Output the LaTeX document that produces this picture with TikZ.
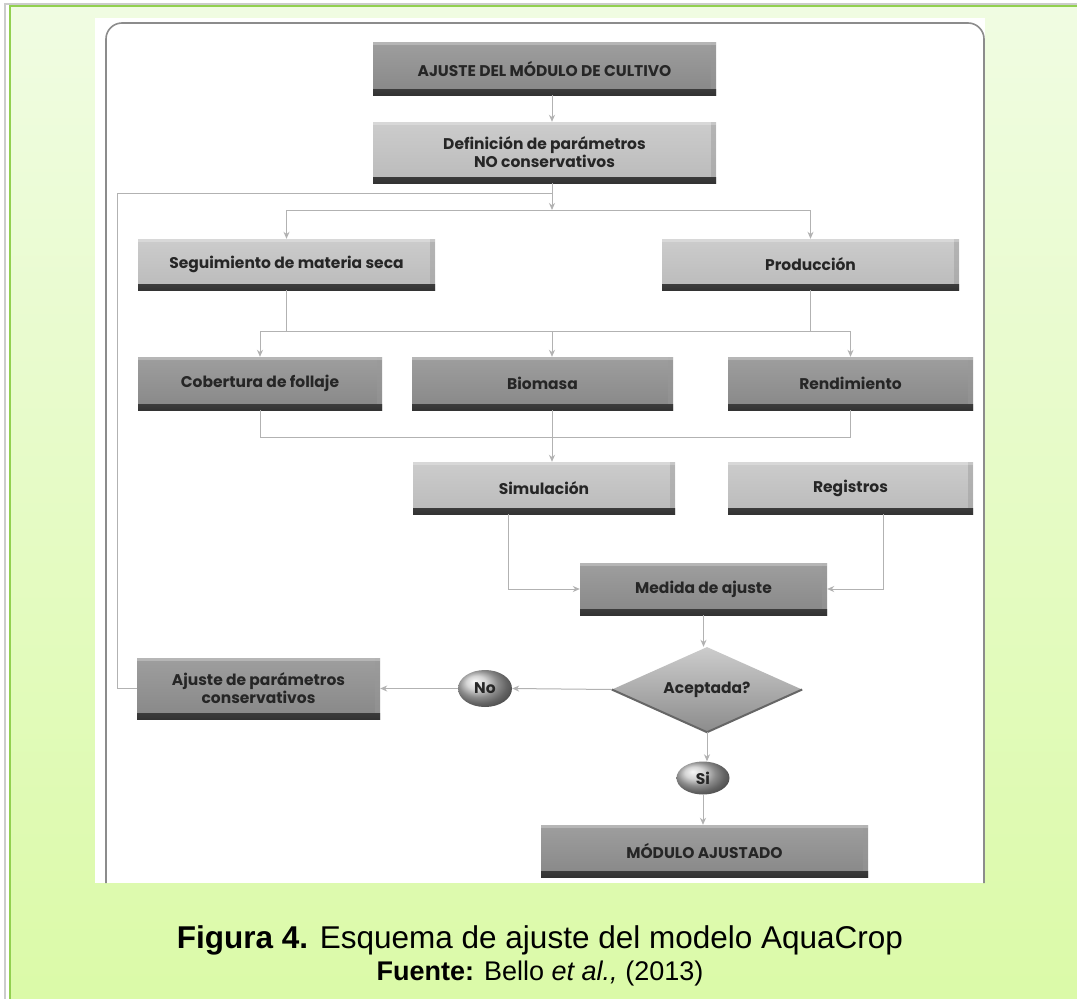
\documentclass[tikz,border=0pt]{standalone}
\usepackage{fontspec}
\usepackage{tikz}
\usetikzlibrary{arrows.meta,shapes.geometric}
\newfontfamily\flujo{Poppins}
\newfontfamily\arial{Liberation Sans}

\definecolor{verdeborde}{RGB}{146,208,80}
\definecolor{verdeA}{RGB}{240,252,226}
\definecolor{verdeB}{RGB}{219,250,168}
\definecolor{conector}{RGB}{178,178,178}

\tikzset{
  caja/.style={minimum height=52pt, inner sep=2pt, align=center,
    font=\flujo\bfseries\fontsize{15.5}{18}\selectfont, text=black!85,
    path picture={
      \shade[top color=black!50, bottom color=black!80]
        ([yshift=6pt]path picture bounding box.south west) rectangle (path picture bounding box.south east);
      \fill[black!40, opacity=.45] ([xshift=-5pt]path picture bounding box.north east)
        rectangle ([yshift=6pt]path picture bounding box.south east);
      \fill[white, opacity=.25] (path picture bounding box.north west)
        rectangle ([yshift=-3pt]path picture bounding box.north east);
    }},
  oscura/.style={caja, top color=black!38, bottom color=black!47},
  clara/.style={caja, top color=black!20, bottom color=black!27},
  decision/.style={diamond, aspect=2.2, minimum width=190pt, minimum height=85pt,
    inner sep=0pt, top color=black!20, bottom color=black!45,
    font=\flujo\bfseries\fontsize{15.5}{18}\selectfont, text=black!85},
  resp/.style={ellipse, minimum width=54pt, minimum height=37pt, inner sep=0pt,
    ball color=black!22, font=\flujo\bfseries\fontsize{15.5}{18}\selectfont, text=black!85},
  linea/.style={draw=conector, line width=1pt},
  flecha/.style={linea, -{Stealth[length=7pt,width=6pt]}}
}

\begin{document}
\begin{tikzpicture}[x=1pt, y=-1pt]
  \useasboundingbox (0,0) rectangle (1077,999);

  % fondo verde
  \fill[white] (0,0) rectangle (1077,999);
  \draw[black!20, line width=2pt] (5,999) -- (5,4) -- (1077,4);
  \shade[top color=verdeA, bottom color=verdeB] (10,6) rectangle (1077,999);
  \draw[verdeborde, line width=2.5pt] (10,999) -- (10,6) -- (1077,6);

  % panel blanco
  \fill[white] (95,18) rectangle (985,883);
  \draw[black!45, line width=1.6pt, rounded corners=16pt] (106,883) -- (106,23) -- (984,23) -- (984,883);

  % cajas
  \node[oscura, minimum width=343pt, minimum height=53pt] (inicio) at (544.5,68.5) {AJUSTE DEL MÓDULO DE CULTIVO};
  \node[clara, minimum width=343pt, minimum height=61pt] (defin) at (544.5,152.5) {Definición de parámetros\\NO conservativos};
  \node[clara, minimum width=297pt, minimum height=51pt] (segui) at (286.5,264.5) {Seguimiento de materia seca};
  \node[clara, minimum width=297pt, minimum height=51pt] (produc) at (810.5,264.5) {Producción};
  \node[oscura, minimum width=244pt, minimum height=53pt] (cobert) at (260,383.5) {Cobertura de follaje};
  \node[oscura, minimum width=261pt, minimum height=53pt] (biomasa) at (542.5,383.5) {Biomasa};
  \node[oscura, minimum width=245pt, minimum height=53pt] (rendim) at (850.5,383.5) {Rendimiento};
  \node[clara, minimum width=262pt] (simul) at (544,488) {Simulación};
  \node[clara, minimum width=245pt] (regist) at (850.5,488) {Registros};
  \node[oscura, minimum width=247pt] (medida) at (703.5,589) {Medida de ajuste};
  \node[decision] (acept) at (707,689.5) {Aceptada?};
  \draw[black!60, line width=2pt] (acept.west) -- (acept.south) -- (acept.east);
  \node[resp] (no) at (485,688.5) {No};
  \node[oscura, minimum width=243pt, minimum height=61pt] (ajpar) at (258.5,688.5) {Ajuste de parámetros\\conservativos};
  \node[resp, minimum width=53pt, minimum height=33pt] (si) at (703,778) {Si};
  \node[oscura, minimum width=327pt] (modulo) at (704.5,851) {MÓDULO AJUSTADO};

  % puntos de reparto
  \coordinate (eje) at (552,0);
  \coordinate (rep1) at (552,210);
  \coordinate (rep2) at (552,331);
  \coordinate (rep3) at (552,437);
  \coordinate (retorno) at (117,193);

  % conectores
  \draw[flecha] (inicio.south -| eje) -- (defin.north -| eje);
  \draw[flecha] (defin.south -| eje) -- (rep1);
  \draw[linea] (segui.north |- rep1) -- (produc.north |- rep1);
  \draw[flecha] (segui.north |- rep1) -- (segui.north);
  \draw[flecha] (produc.north |- rep1) -- (produc.north);

  \draw[linea] (segui.south) -- (segui.south |- rep2);
  \draw[linea] (produc.south) -- (produc.south |- rep2);
  \draw[linea] (cobert.north |- rep2) -- (rendim.north |- rep2);
  \draw[flecha] (cobert.north |- rep2) -- (cobert.north);
  \draw[flecha] (rep2) -- (biomasa.north -| rep2);
  \draw[flecha] (rendim.north |- rep2) -- (rendim.north);

  \draw[linea] (cobert.south) -- (cobert.south |- rep3) -- (rendim.south |- rep3) -- (rendim.south);
  \draw[flecha] (biomasa.south -| rep3) -- (simul.north -| rep3);

  \draw[flecha] ([xshift=-36pt]simul.south) |- (medida.west);
  \draw[flecha] ([xshift=32.5pt]regist.south) |- (medida.east);
  \draw[flecha] (medida.south) -- (medida.south |- acept.north);
  \draw[flecha] (acept.west) -- (no.east);
  \draw[flecha] (no.west) -- (ajpar.east);
  \draw[linea] (ajpar.west) -| (retorno) -- (retorno -| eje);
  \draw[flecha] (acept.south) -- (acept.south |- si.north);
  \draw[flecha] (si.south) -- (si.south |- modulo.north);

  % pie de figura
  \node[anchor=base, font=\arial\fontsize{31.5}{36}\selectfont] (titulo) at (540,948)
    {\textbf{Figura 4.} Esquema de ajuste del modelo AquaCrop};
  \node[anchor=base, font=\arial\fontsize{27}{30}\selectfont] (fuente) at (540,980)
    {\textbf{Fuente:} Bello \textit{et al.,} (2013)};
\end{tikzpicture}
\end{document}
